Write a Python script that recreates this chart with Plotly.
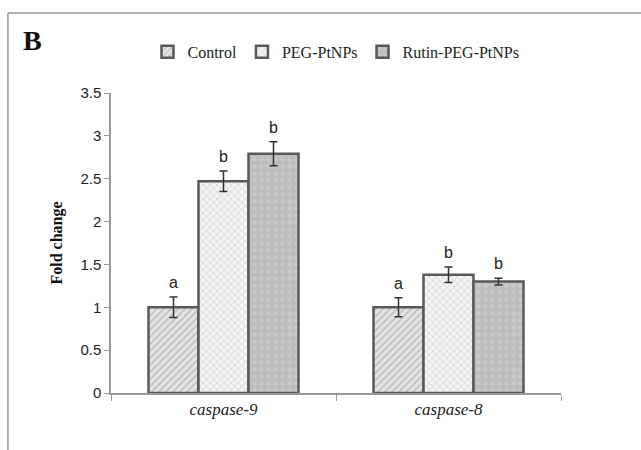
import plotly.graph_objects as go

categories = ["caspase-9", "caspase-8"]
series_names = ["Control", "PEG-PtNPs", "Rutin-PEG-PtNPs"]
values = {
    "Control": [1.0, 1.0],
    "PEG-PtNPs": [2.47, 1.38],
    "Rutin-PEG-PtNPs": [2.79, 1.30],
}
errors = {
    "Control": [0.12, 0.11],
    "PEG-PtNPs": [0.12, 0.09],
    "Rutin-PEG-PtNPs": [0.14, 0.04],
}
letters = {
    "Control": ["a", "a"],
    "PEG-PtNPs": ["b", "b"],
    "Rutin-PEG-PtNPs": ["b", "b"],
}
yticks = [0, 0.5, 1, 1.5, 2, 2.5, 3, 3.5]
ytick_text = ["0", "0.5", "1", "1.5", "2", "2.5", "3", "3.5"]

styles = {
    "Control": dict(bg="#e6e6e6", fg="#9a9a9a", shape="/", size=5, sol=0.35),
    "PEG-PtNPs": dict(bg="#f4f4f4", fg="#b5b5b5", shape="x", size=5, sol=0.3),
    "Rutin-PEG-PtNPs": dict(bg="#bdbdbd", fg="#d6d6d6", shape=".", size=7, sol=0.3),
}

fig = go.Figure()
for name in series_names:
    s = styles[name]
    fig.add_trace(go.Bar(
        name=name,
        x=categories,
        y=values[name],
        error_y=dict(type="data", array=errors[name], visible=True,
                     color="#333333", thickness=1.5, width=4),
        marker=dict(
            color=s["bg"],
            line=dict(color="#595959", width=2.5),
            pattern=dict(shape=s["shape"], fgcolor=s["fg"], bgcolor=s["bg"],
                         size=s["size"], solidity=s["sol"], fillmode="overlay"),
        ),
    ))

# letter annotations above error bars
offsets = [-1, 0, 1]
for i, name in enumerate(series_names):
    for j, cat in enumerate(categories):
        fig.add_annotation(
            x=j + offsets[i] * (1 - 1/3) / 3, xref="x",
            y=values[name][j] + errors[name][j], yref="y",
            text=letters[name][j], showarrow=False, yanchor="bottom", yshift=4,
            font=dict(family="Liberation Sans, Arial", size=16, color="#222222"),
        )

fig.add_annotation(
    x=-0.2, xref="paper", y=1.175, yref="paper", text="<b>B</b>", showarrow=False,
    xanchor="left", yanchor="middle",
    font=dict(family="Liberation Serif, Times New Roman", size=28, color="#111111"),
)

# outer frame (top and left lines)
fig.add_shape(type="line", xref="paper", yref="paper", x0=-0.229, x1=1.2,
              y0=1.267, y1=1.267, line=dict(color="#999999", width=1.5))
fig.add_shape(type="line", xref="paper", yref="paper", x0=-0.229, x1=-0.229,
              y0=1.267, y1=-0.2, line=dict(color="#999999", width=1.5))

fig.update_layout(
    width=641, height=450,
    margin=dict(l=111, r=80, t=93, b=57),
    paper_bgcolor="white", plot_bgcolor="white",
    barmode="group", bargap=1/3, bargroupgap=0,
    showlegend=True,
    legend=dict(orientation="h", x=0.5, xanchor="center", y=1.137, yanchor="middle",
                font=dict(family="Liberation Serif, Times New Roman", size=16, color="#222222"),
                itemwidth=30, traceorder="normal"),
    xaxis=dict(
        showline=True, linecolor="#999999", linewidth=1.5,
        ticks="outside", tickson="boundaries", ticklen=6, tickcolor="#999999",
        tickvals=categories, ticktext=["<i>" + c + "</i>" for c in categories],
        tickfont=dict(family="Liberation Serif", size=17, color="#222222"),
        showgrid=False,
    ),
    yaxis=dict(
        range=[0, 3.5], tickvals=yticks, ticktext=ytick_text,
        showline=True, linecolor="#999999", linewidth=1.5,
        ticks="outside", ticklen=5, tickcolor="#999999",
        tickfont=dict(family="Liberation Sans, Arial", size=15, color="#222222"),
        showgrid=False, zeroline=False,
        title=dict(text="<b>Fold change</b>", standoff=14,
                   font=dict(family="Liberation Serif, Times New Roman", size=16, color="#111111")),
    ),
)

fig.write_html("out.html")
